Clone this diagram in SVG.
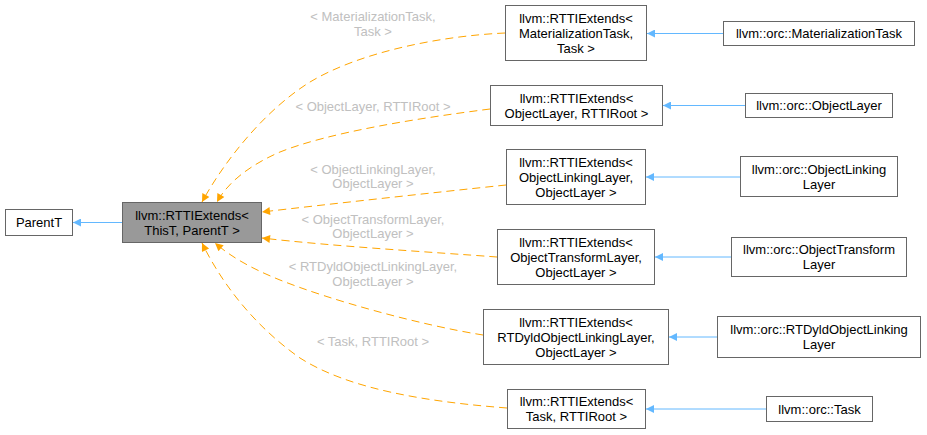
<svg xmlns="http://www.w3.org/2000/svg" width="927" height="435" viewBox="0 0 927 435">
<style>
text{font-family:"Liberation Sans",Arial,sans-serif;font-size:13px;text-anchor:middle}
.n rect{fill:#fff;stroke:#666;stroke-width:1}
.n text{fill:#000}
#main rect{fill:#999}
.lbl{fill:#c0c0c0}
.inh{fill:none;stroke:#63b8ff;stroke-width:1}
.tpl{fill:none;stroke:#ffa500;stroke-width:1;stroke-dasharray:8,5}
</style>
<defs>
<marker id="ab" viewBox="0 0 10 10" refX="10" refY="5" markerWidth="11" markerHeight="8" markerUnits="userSpaceOnUse" orient="auto"><path d="M0,0L10,5L0,10z" fill="#63b8ff"/></marker>
<marker id="ao" viewBox="0 0 10 10" refX="10" refY="5" markerWidth="11" markerHeight="8" markerUnits="userSpaceOnUse" orient="auto"><path d="M0,0L10,5L0,10z" fill="#ffa500"/></marker>
</defs>
<rect width="927" height="435" fill="#fff"/>
<g id="connectors">
<path class="inh" marker-end="url(#ab)" d="M122,222.5L73,222.5"/>
<path class="inh" marker-end="url(#ab)" d="M723,33.5L647,33.5"/>
<path class="inh" marker-end="url(#ab)" d="M745,105.5L663,105.5"/>
<path class="inh" marker-end="url(#ab)" d="M740,177L646,177"/>
<path class="inh" marker-end="url(#ab)" d="M731,257L655,257"/>
<path class="inh" marker-end="url(#ab)" d="M717,337L669,337"/>
<path class="inh" marker-end="url(#ab)" d="M766,409L646,409"/>
<path class="tpl" marker-end="url(#ao)" d="M505,33C440,36 360,52 310,82C265,110 225,160 202,202"/>
<path class="tpl" marker-end="url(#ao)" d="M490,109C420,118 330,132 280,152C250,165 228,182 217,202"/>
<path class="tpl" marker-end="url(#ao)" d="M506,185C430,193 330,204 262,212"/>
<path class="tpl" marker-end="url(#ao)" d="M497,257C430,252 330,246 262,238"/>
<path class="tpl" marker-end="url(#ao)" d="M483,335C420,325 330,300 280,280C250,268 230,256 215,243"/>
<path class="tpl" marker-end="url(#ao)" d="M507,408C430,402 350,390 300,358C260,330 225,290 202,243"/>
<text class="lbl" x="373" y="21">&lt; MaterializationTask,</text>
<text class="lbl" x="373" y="36">Task &gt;</text>
<text class="lbl" x="373" y="110.5">&lt; ObjectLayer, RTTIRoot &gt;</text>
<text class="lbl" x="373" y="174">&lt; ObjectLinkingLayer,</text>
<text class="lbl" x="373" y="188">ObjectLayer &gt;</text>
<text class="lbl" x="373" y="224">&lt; ObjectTransformLayer,</text>
<text class="lbl" x="373" y="238">ObjectLayer &gt;</text>
<text class="lbl" x="373" y="271">&lt; RTDyldObjectLinkingLayer,</text>
<text class="lbl" x="373" y="286">ObjectLayer &gt;</text>
<text class="lbl" x="373" y="346">&lt; Task, RTTIRoot &gt;</text>
</g>
<g id="parentT" class="n"><rect x="5.5" y="209.5" width="67" height="26"/><text x="39" y="227">ParentT</text></g>
<g id="main" class="n"><rect x="122.5" y="202.5" width="139" height="40"/><text x="192" y="219.5">llvm::RTTIExtends&lt;</text><text x="192" y="234.5">ThisT, ParentT &gt;</text></g>
<g id="ext1" class="n"><rect x="505.5" y="5.5" width="141" height="55"/><text x="576" y="22.5">llvm::RTTIExtends&lt;</text><text x="576" y="37.5">MaterializationTask,</text><text x="576" y="52.5">Task &gt;</text></g>
<g id="ext2" class="n"><rect x="490.5" y="85.5" width="172" height="40"/><text x="576.5" y="102.5">llvm::RTTIExtends&lt;</text><text x="576.5" y="117.5">ObjectLayer, RTTIRoot &gt;</text></g>
<g id="ext3" class="n"><rect x="506.5" y="149.5" width="139" height="55"/><text x="576" y="166.5">llvm::RTTIExtends&lt;</text><text x="576" y="181.5">ObjectLinkingLayer,</text><text x="576" y="196.5">ObjectLayer &gt;</text></g>
<g id="ext4" class="n"><rect x="497.5" y="229.5" width="157" height="55"/><text x="576" y="246.5">llvm::RTTIExtends&lt;</text><text x="576" y="261.5">ObjectTransformLayer,</text><text x="576" y="276.5">ObjectLayer &gt;</text></g>
<g id="ext5" class="n"><rect x="483.5" y="309.5" width="185" height="55"/><text x="576" y="326.5">llvm::RTTIExtends&lt;</text><text x="576" y="341.5">RTDyldObjectLinkingLayer,</text><text x="576" y="356.5">ObjectLayer &gt;</text></g>
<g id="ext6" class="n"><rect x="507.5" y="389.5" width="138" height="39"/><text x="576.5" y="406">llvm::RTTIExtends&lt;</text><text x="576.5" y="421">Task, RTTIRoot &gt;</text></g>
<g id="matTask" class="n"><rect x="723.5" y="21.5" width="191" height="24"/><text x="819" y="38">llvm::orc::MaterializationTask</text></g>
<g id="objLayer" class="n"><rect x="745.5" y="93.5" width="147" height="24"/><text x="819" y="110">llvm::orc::ObjectLayer</text></g>
<g id="objLinking" class="n"><rect x="740.5" y="156.5" width="157" height="40"/><text x="819" y="173.5">llvm::orc::ObjectLinking</text><text x="819" y="188.5">Layer</text></g>
<g id="objTransform" class="n"><rect x="731.5" y="237.5" width="175" height="39"/><text x="819" y="254">llvm::orc::ObjectTransform</text><text x="819" y="269">Layer</text></g>
<g id="rtdyld" class="n"><rect x="717.5" y="316.5" width="203" height="41"/><text x="819" y="334">llvm::orc::RTDyldObjectLinking</text><text x="819" y="349">Layer</text></g>
<g id="task" class="n"><rect x="766.5" y="396.5" width="106" height="25"/><text x="819.5" y="413.5">llvm::orc::Task</text></g>
</svg>
